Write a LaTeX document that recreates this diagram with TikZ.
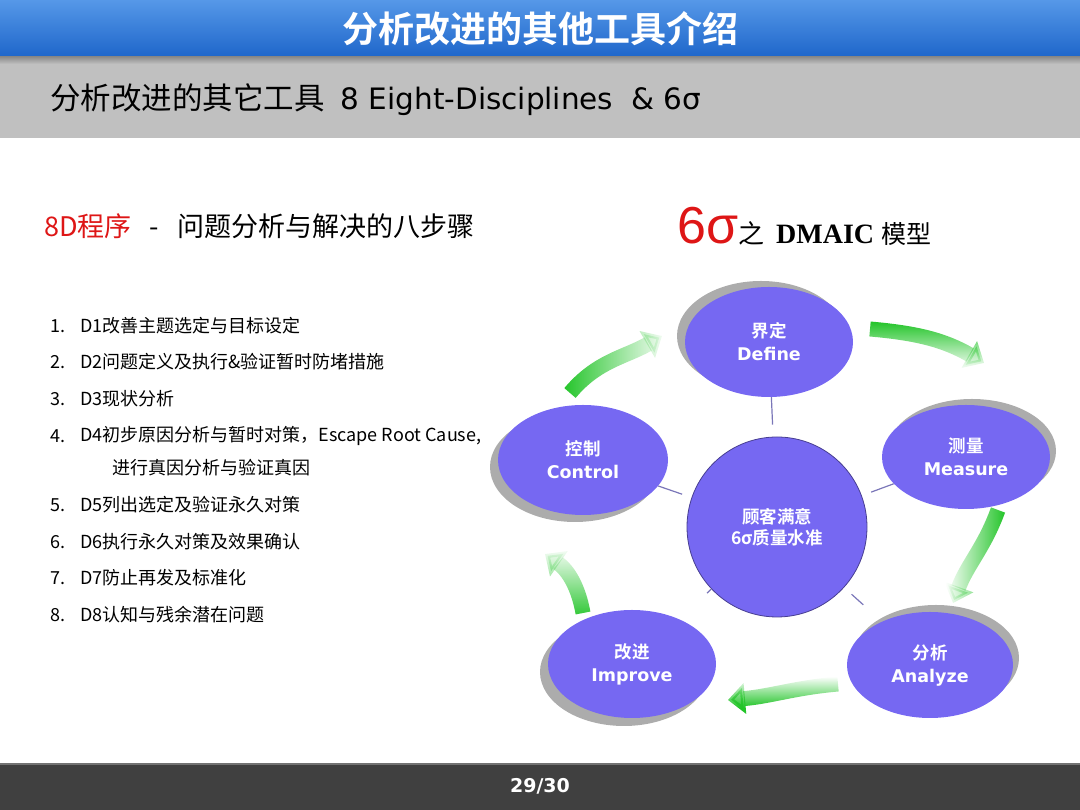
\documentclass[tikz,border=0pt]{standalone}
\usepackage{fontspec}
\setmainfont{DejaVu Sans}
\newfontfamily\cjk{Noto Sans CJK SC}[BoldFont={Noto Sans CJK SC Bold}]
\newfontfamily\arialfont{Liberation Sans}
\newfontfamily\timesfont{Liberation Serif}
\usetikzlibrary{shapes.geometric,shadows,fadings,arrows.meta}

\definecolor{barblue}{RGB}{30,102,202}
\definecolor{barbluetop}{RGB}{86,152,232}
\definecolor{bargray}{RGB}{192,192,192}
\definecolor{footgray}{RGB}{64,64,64}
\definecolor{stepblue}{RGB}{118,104,242}
\definecolor{shadegray}{RGB}{172,172,172}
\definecolor{spokeline}{RGB}{122,118,184}
\definecolor{cyclegreen}{RGB}{34,196,40}
\definecolor{titlered}{RGB}{222,22,22}

\tikzfading[name=greenfade, top color=transparent!0, bottom color=transparent!100]

\tikzset{
  phase/.style={ellipse, fill=stepblue, text=white, align=center, inner sep=0pt,
    font=\bfseries\fontsize{17.5}{23}\selectfont},
  hubcircle/.style={circle, fill=stepblue, draw=stepblue!60!black, line width=0.8pt,
    text=white, align=center, inner sep=0pt, minimum size=180,
    font=\bfseries\fontsize{17.5}{21}\selectfont},
  item/.style={anchor=west, inner sep=0pt, font=\cjk\fontsize{18}{22}\selectfont},
  spoke/.style={draw=spokeline, line width=1.2pt},
  cyclearrow/.style={draw=cyclegreen, line width=15pt, path fading=greenfade,
    -{Triangle[length=2pt 1, width=0pt 2]}},
}

\begin{document}
\begin{tikzpicture}[x=1pt,y=1pt]
  \useasboundingbox (0,0) rectangle (1080,810);
  % bands
  \shade[top color=barbluetop, bottom color=barblue] (0,753) rectangle (1080,810);
  \fill[bargray] (0,672) rectangle (1080,753);
  \shade[top color=black!45, bottom color=bargray] (0,746) rectangle (1080,753);
  \fill[footgray] (0,0) rectangle (1080,46);
  \draw[black!55, line width=2pt] (0,46) -- (1080,46);

  \node[text=white, font=\cjk\bfseries\fontsize{36}{40}\selectfont] (head) at (540,781) {分析改进的其他工具介绍};
  \node[anchor=west, inner sep=0pt] (sub) at (50,710)
    {{\cjk\fontsize{30.5}{34}\selectfont 分析改进的其它工具}\hspace{16pt}{\fontsize{29.5}{32}\selectfont 8 Eight-Disciplines\hspace{18pt}\& 6σ}};
  \node[text=white, font=\bfseries\fontsize{19}{22}\selectfont] (page) at (540,24) {29/30};

  % 8D steps
  \node[anchor=west, inner sep=0pt, font=\cjk\fontsize{27}{30}\selectfont] (steps) at (44,584)
    {\textcolor{titlered}{8D程序}\hspace{18pt}-\hspace{18pt}问题分析与解决的八步骤};
  \node[item] (n1) at (50,484) {1.};
  \node[item] (d1) at (80,484) {D1改善主题选定与目标设定};
  \node[item] (n2) at (50,448) {2.};
  \node[item] (d2) at (80,448) {D2问题定义及执行\&验证暂时防堵措施};
  \node[item] (n3) at (50,411) {3.};
  \node[item] (d3) at (80,411) {D3现状分析};
  \node[item] (n4) at (50,374) {4.};
  \node[item] (d4) at (80,374) {D4初步原因分析与暂时对策，Escape Root Cause,};
  \node[item] (d4b) at (112,342) {进行真因分析与验证真因};
  \node[item] (n5) at (50,305) {5.};
  \node[item] (d5) at (80,305) {D5列出选定及验证永久对策};
  \node[item] (n6) at (50,268) {6.};
  \node[item] (d6) at (80,268) {D6执行永久对策及效果确认};
  \node[item] (n7) at (50,232) {7.};
  \node[item] (d7) at (80,232) {D7防止再发及标准化};
  \node[item] (n8) at (50,195) {8.};
  \node[item] (d8) at (80,195) {D8认知与残余潜在问题};

  % DMAIC model
  \node[anchor=base west, inner sep=0pt] (model) at (677,566)
    {{\arialfont\fontsize{52}{56}\selectfont\textcolor{titlered}{6σ}}{\cjk\fontsize{26}{30}\selectfont 之}\hspace{12pt}{\timesfont\bfseries\fontsize{28}{32}\selectfont DMAIC}\hspace{7pt}{\cjk\fontsize{25}{30}\selectfont 模型}};

  \node[phase, minimum width=168, minimum height=110,
    general shadow={fill=shadegray, shadow xshift=-8pt, shadow yshift=6pt}] (def) at (769,468) {{\cjk 界定}\\Define};
  \node[phase, minimum width=168, minimum height=104,
    general shadow={fill=shadegray, shadow xshift=6pt, shadow yshift=6pt}] (mea) at (966,353) {{\cjk 测量}\\Measure};
  \node[phase, minimum width=166, minimum height=106,
    general shadow={fill=shadegray, shadow xshift=6pt, shadow yshift=7pt}] (ana) at (930,145) {{\cjk 分析}\\Analyze};
  \node[phase, minimum width=168, minimum height=108,
    general shadow={fill=shadegray, shadow xshift=-8pt, shadow yshift=-8pt}] (imp) at (632,146) {{\cjk 改进}\\Improve};
  \node[phase, minimum width=170, minimum height=110,
    general shadow={fill=shadegray, shadow xshift=-8pt, shadow yshift=-7pt}] (con) at (583,350) {{\cjk 控制}\\Control};
  \node[hubcircle] (hub) at (777,283) {{\cjk 顾客满意}\\{\cjk 6σ质量水准}};

  \draw[spoke, shorten <=12pt] (hub) -- (def);
  \draw[spoke, shorten <=10pt] (hub) -- (mea);
  \draw[spoke, shorten <=10pt, shorten >=25pt] (hub) -- (ana);
  \draw[spoke, shorten >=38pt] (hub) -- (imp);
  \draw[spoke, shorten <=10pt] (hub) -- (con);

  % cycle arrows
  \coordinate (a1s) at (870,481);
  \coordinate (a1e) at (984,447);
  \coordinate (a2s) at (998,300);
  \coordinate (a2e) at (953,207);
  \coordinate (a3s) at (838,126);
  \coordinate (a3e) at (728,110);
  \coordinate (a4s) at (583,197);
  \coordinate (a4e) at (545,256);
  \coordinate (a5s) at (570,417);
  \coordinate (a5e) at (662,474);
  \draw[cyclearrow, fading angle=0] (a1s) to[out=-5, in=150] (a1e);
  \draw[cyclearrow, fading angle=-90] (a2s) to[out=-110, in=70] (a2e);
  \draw[cyclearrow, fading angle=180] (a3s) to[out=185, in=5] (a3e);
  \draw[cyclearrow, fading angle=180] (a4s) to[out=100, in=-35] (a4e);
  \draw[cyclearrow, fading angle=90] (a5s) to[out=50, in=-150] (a5e);
\end{tikzpicture}
\end{document}
